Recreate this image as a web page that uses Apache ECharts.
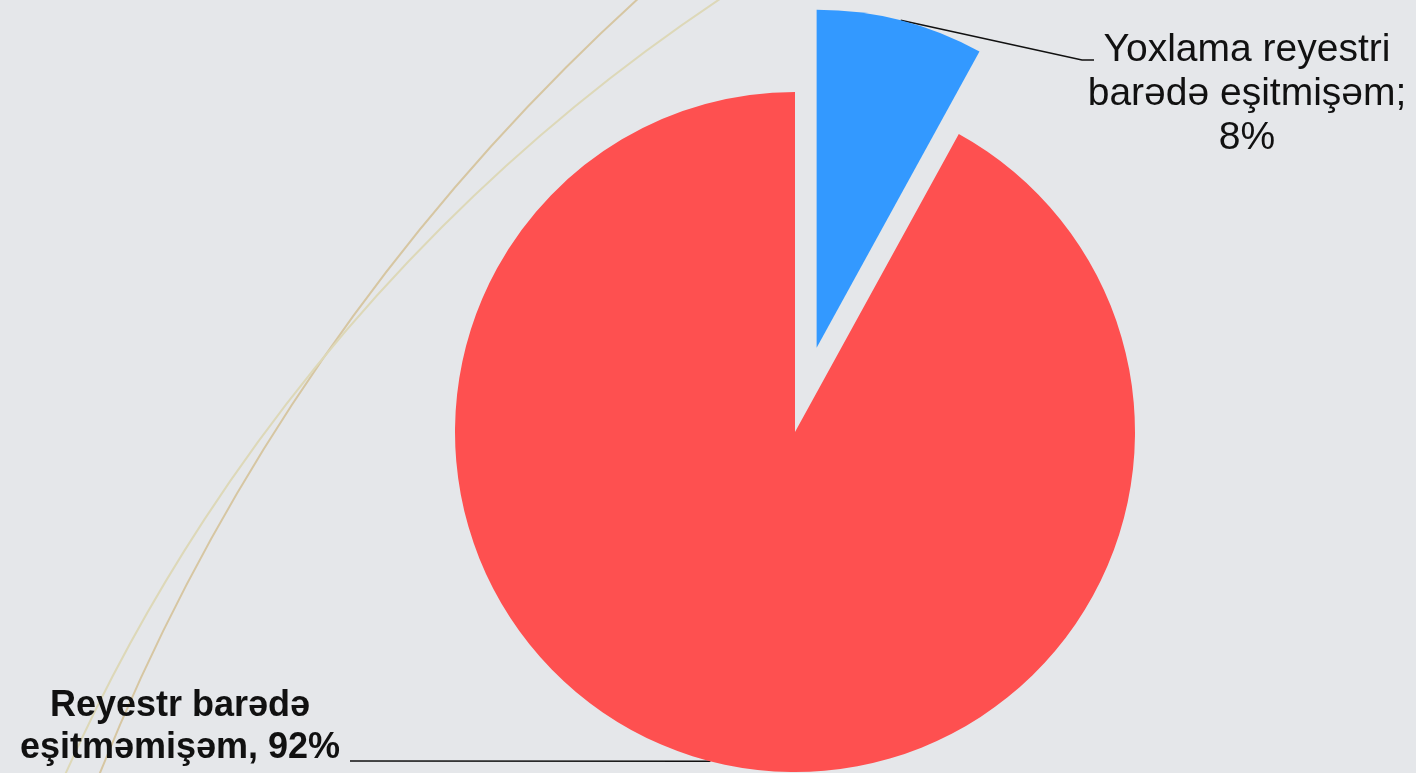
<!DOCTYPE html>
<html>
<head>
<meta charset="utf-8">
<title>Reyestr</title>
<script src="https://cdn.jsdelivr.net/npm/echarts@6/dist/echarts.min.js"></script>
<style>
  html, body { margin: 0; padding: 0; background: #e5e7ea; }
  #chart { width: 1416px; height: 773px; }
</style>
</head>
<body>
<div id="chart"></div>
<script>
// data
const names = ['Yoxlama reyestri\nbarədə eşitmişəm;', 'Reyestr barədə\neşitməmişəm,'];
const values = [8, 92];
const colors = ['#3399ff', '#fe5050'];
const separators = ['\n', ' '];

// pie geometry
const center = [795, 432];
const radius = 340;
const explode = 87; // pulled-out slice offset, px

const total = values.reduce((a, b) => a + b, 0);
const midDeg = 360 * values[0] / total / 2;
const midRad = midDeg * Math.PI / 180;
const blueCenter = [center[0] + explode * Math.sin(midRad), center[1] - explode * Math.cos(midRad)];

const chart = echarts.init(document.getElementById('chart'));

const labelBase = {
  show: true,
  position: 'outside',
  color: '#111',
  fontFamily: '"Liberation Sans", Arial, sans-serif',
  align: 'center',
  formatter: p => p.name + separators[p.dataIndex] + p.value + '%'
};
const lineBase = { show: true, lineStyle: { color: '#111', width: 1.5 } };
const hidden = { label: { show: false }, labelLine: { show: false }, itemStyle: { color: 'transparent' } };

// builds the data of one pie, only slice `keep` drawn
function pieData(keep) {
  return names.map((n, i) => {
    const item = { name: n, value: values[i] };
    if (i === keep) item.itemStyle = { color: colors[i] };
    else Object.assign(item, hidden);
    return item;
  });
}

// label placement: where the text block sits and where the leader line bends
function placeLabel(keep, x, y, bends) {
  return function (params) {
    if (params.dataIndex !== keep || !params.labelLinePoints) return {};
    return {
      x: x, y: y, align: 'center', verticalAlign: 'middle',
      labelLinePoints: [params.labelLinePoints[0]].concat(bends)
    };
  };
}

chart.setOption({
  backgroundColor: '#e5e7ea',
  animation: false,
  graphic: [
    // thin decorative arcs behind the chart
    { type: 'circle', z: -1, silent: true, shape: { cx: 2057, cy: 1559, r: 2109 }, style: { stroke: '#d6c6a2', lineWidth: 2, fill: 'none' } },
    { type: 'circle', z: -1, silent: true, shape: { cx: 1736, cy: 1521, r: 1830 }, style: { stroke: '#ddd8b8', lineWidth: 2, fill: 'none' } }
  ],
  series: [
    {
      type: 'pie',
      center: blueCenter,
      radius: radius - 2,
      startAngle: 90,
      clockwise: true,
      data: pieData(0),
      label: Object.assign({}, labelBase, { fontSize: 39, lineHeight: 44 }),
      labelLine: lineBase,
      labelLayout: placeLabel(0, 1247, 94, [[1082, 60], [1094, 60]]),
      emphasis: { disabled: true }
    },
    {
      type: 'pie',
      center: center,
      radius: radius,
      startAngle: 90,
      clockwise: true,
      data: pieData(1),
      label: Object.assign({}, labelBase, { fontSize: 36, lineHeight: 42, fontWeight: 'bold' }),
      labelLine: lineBase,
      labelLayout: placeLabel(1, 180, 727, [[350, 761]]),
      emphasis: { disabled: true }
    }
  ]
});
</script>
</body>
</html>
